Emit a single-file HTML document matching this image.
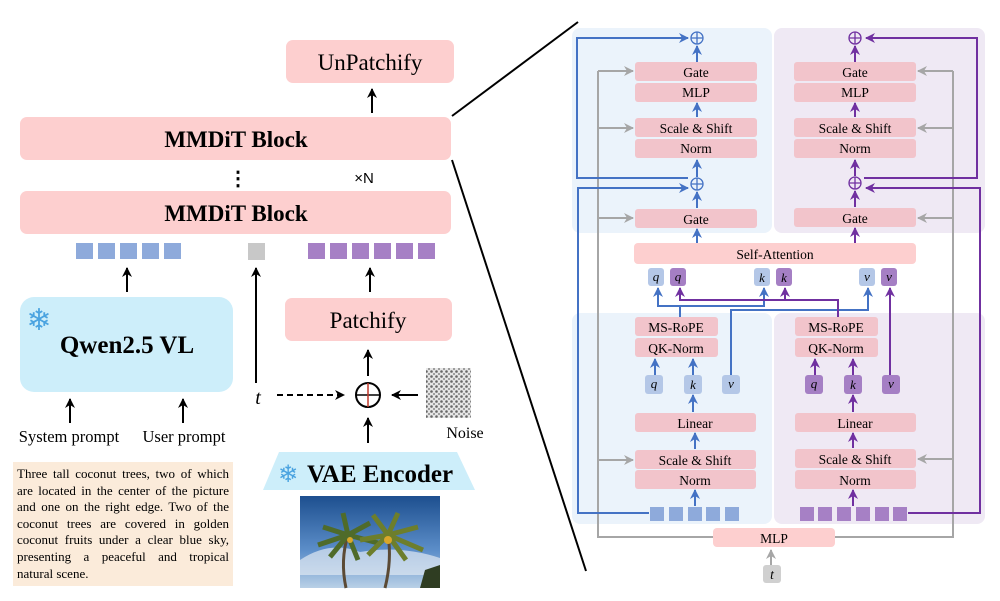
<!DOCTYPE html>
<html><head><meta charset="utf-8"><style>
html,body{margin:0;padding:0;background:#fff;width:1000px;height:601px;overflow:hidden;position:relative}
svg{display:block}
text{font-family:"Liberation Serif",serif;fill:#000}
.t{font-size:13.5px;text-anchor:middle}
#desc{position:absolute;left:13px;top:462px;width:212px;height:120px;padding:4px 4px 0 4px;background:#fbebda;font-family:"Liberation Serif",serif;font-size:13px;line-height:16.6px;color:#000}
#desc div{text-align:justify;text-align-last:justify;white-space:nowrap}
#desc div.l{text-align-last:left}
</style></head><body>
<svg width="1000" height="601" viewBox="0 0 1000 601" xmlns="http://www.w3.org/2000/svg">
<defs>
<marker id="ak" viewBox="0 0 10 10" refX="9" refY="5" markerWidth="5" markerHeight="5" orient="auto"><path d="M0,0 L10,5 L0,10 L3,5z" fill="#000"/></marker>
<marker id="ab" viewBox="0 0 10 10" refX="9" refY="5" markerWidth="5" markerHeight="5" orient="auto"><path d="M0,0 L10,5 L0,10 L3,5z" fill="#4472c4"/></marker>
<marker id="ap" viewBox="0 0 10 10" refX="9" refY="5" markerWidth="5" markerHeight="5" orient="auto"><path d="M0,0 L10,5 L0,10 L3,5z" fill="#7030a0"/></marker>
<marker id="ag" viewBox="0 0 10 10" refX="9" refY="5" markerWidth="5" markerHeight="5" orient="auto"><path d="M0,0 L10,5 L0,10 L3,5z" fill="#a6a6a6"/></marker>
<pattern id="noise" width="5" height="5" patternUnits="userSpaceOnUse"><rect width="5" height="5" fill="#e6e6e6"/><circle cx="1.5" cy="1.5" r="1.3" fill="#666"/><circle cx="4" cy="4" r="1" fill="#888"/></pattern>
<linearGradient id="sky" x1="0" y1="0" x2="0" y2="1"><stop offset="0" stop-color="#1d4f8f"/><stop offset="0.6" stop-color="#5d8fca"/><stop offset="1" stop-color="#b9d0e6"/></linearGradient>
</defs>

<line x1="452" y1="116" x2="578" y2="22" stroke="#000" stroke-width="2"/>
<line x1="452" y1="160" x2="586" y2="571" stroke="#000" stroke-width="2"/>

<rect x="286" y="40" width="168" height="43" rx="7" fill="#fdcfcf"/>
<text x="370" y="70" font-size="23" text-anchor="middle">UnPatchify</text>
<line x1="372" y1="113" x2="372" y2="89" stroke="#000" stroke-width="2" marker-end="url(#ak)"/>
<rect x="20" y="117" width="431" height="43" rx="7" fill="#fdcfcf"/>
<text x="236" y="147" font-size="23" font-weight="bold" text-anchor="middle">MMDiT Block</text>
<text x="238" y="185" font-size="20" font-weight="bold" text-anchor="middle">⋮</text>
<text x="364" y="183" font-size="15" text-anchor="middle" style="font-family:'Liberation Sans',sans-serif">×N</text>
<rect x="20" y="191" width="431" height="43" rx="7" fill="#fdcfcf"/>
<text x="236" y="221" font-size="23" font-weight="bold" text-anchor="middle">MMDiT Block</text>

<g fill="#8eaadb">
<rect x="76" y="243" width="17" height="16"/><rect x="98" y="243" width="17" height="16"/><rect x="120" y="243" width="17" height="16"/><rect x="142" y="243" width="17" height="16"/><rect x="164" y="243" width="17" height="16"/>
</g>
<rect x="248" y="243" width="17" height="17" fill="#c8c8c8"/>
<g fill="#a680c5">
<rect x="308" y="243" width="17" height="16"/><rect x="330" y="243" width="17" height="16"/><rect x="352" y="243" width="17" height="16"/><rect x="374" y="243" width="17" height="16"/><rect x="396" y="243" width="17" height="16"/><rect x="418" y="243" width="17" height="16"/>
</g>
<line x1="127" y1="292" x2="127" y2="268" stroke="#000" stroke-width="2" marker-end="url(#ak)"/>
<line x1="370" y1="292" x2="370" y2="268" stroke="#000" stroke-width="2" marker-end="url(#ak)"/>
<line x1="256" y1="383" x2="256" y2="268" stroke="#000" stroke-width="2" marker-end="url(#ak)"/>

<rect x="20" y="297" width="213" height="95" rx="14" fill="#cdeefa"/>
<text x="39" y="330" font-size="30" text-anchor="middle" style="fill:#4aa3e0;font-family:'DejaVu Sans',sans-serif">❄</text>
<text x="127" y="353" font-size="25" font-weight="bold" text-anchor="middle">Qwen2.5 VL</text>
<line x1="70" y1="423" x2="70" y2="399" stroke="#000" stroke-width="2" marker-end="url(#ak)"/>
<line x1="183" y1="423" x2="183" y2="399" stroke="#000" stroke-width="2" marker-end="url(#ak)"/>
<text x="69" y="442" font-size="16.5" text-anchor="middle">System prompt</text>
<text x="184" y="442" font-size="16.5" text-anchor="middle">User prompt</text>

<rect x="285" y="298" width="167" height="43" rx="7" fill="#fdcfcf"/>
<text x="368" y="328" font-size="23" text-anchor="middle">Patchify</text>
<line x1="368" y1="376" x2="368" y2="350" stroke="#000" stroke-width="2" marker-end="url(#ak)"/>
<circle cx="368" cy="395" r="12" fill="none" stroke="#000" stroke-width="2"/>
<line x1="356" y1="395" x2="380" y2="395" stroke="#000" stroke-width="1.5"/>
<line x1="368" y1="383" x2="368" y2="407" stroke="#c0392b" stroke-width="1.5"/>
<text x="258" y="404" font-size="20" font-style="italic" text-anchor="middle">t</text>
<line x1="277" y1="395" x2="344" y2="395" stroke="#000" stroke-width="2" stroke-dasharray="6,4" marker-end="url(#ak)"/>
<line x1="418" y1="395" x2="392" y2="395" stroke="#000" stroke-width="2" marker-end="url(#ak)"/>
<rect x="426" y="368" width="45" height="50" fill="url(#noise)"/>
<text x="465" y="438" font-size="16" text-anchor="middle">Noise</text>
<line x1="368" y1="443" x2="368" y2="418" stroke="#000" stroke-width="2" marker-end="url(#ak)"/>

<polygon points="279,452 457,452 475,490 263,490" fill="#cdeefa"/>
<text x="288" y="482" font-size="24" text-anchor="middle" style="fill:#4aa3e0;font-family:'DejaVu Sans',sans-serif">❄</text>
<text x="380" y="482" font-size="25" font-weight="bold" text-anchor="middle">VAE Encoder</text>

<rect x="300" y="496" width="140" height="92" fill="url(#sky)"/>
<path d="M300,560 Q330,540 360,552 Q400,545 440,558 L440,575 L300,575z" fill="#dfe8f2" opacity="0.7"/>
<path d="M346,588 Q340,560 348,535" stroke="#5b4a35" stroke-width="3" fill="none"/>
<path d="M385,588 Q392,560 388,535" stroke="#5b4a35" stroke-width="3" fill="none"/>
<path d="M348,535 l-30,10 M348,535 l-25,-8 M348,535 l-5,-22 M348,535 l22,-12 M348,535 l30,8 M348,535 l10,25 M348,535 l-18,22" stroke="#4f6b2a" stroke-width="5" fill="none"/>
<path d="M388,535 l-28,5 M388,535 l-15,-20 M388,535 l10,-22 M388,535 l30,-8 M388,535 l35,15 M388,535 l18,25 M388,535 l-20,20" stroke="#6d7e2c" stroke-width="5" fill="none"/>
<circle cx="388" cy="540" r="4" fill="#d9a62a"/><circle cx="350" cy="540" r="3" fill="#d9a62a"/>
<path d="M420,588 L425,570 L440,565 L440,588z" fill="#2f3d22"/>

<rect x="572" y="28" width="200" height="205" rx="8" fill="#ebf3fb"/>
<rect x="774" y="28" width="211" height="205" rx="8" fill="#efe9f4"/>
<rect x="572" y="313" width="200" height="211" rx="8" fill="#ebf3fb"/>
<rect x="774" y="313" width="211" height="211" rx="8" fill="#efe9f4"/>

<g stroke="#a6a6a6" stroke-width="2" fill="none">
<path d="M713,537 H598 V71"/><path d="M835,537 H953 V71"/>
<line x1="771" y1="565" x2="771" y2="550" marker-end="url(#ag)"/>
</g>
<g stroke="#a6a6a6" stroke-width="2" marker-end="url(#ag)">
<line x1="598" y1="71" x2="633" y2="71"/><line x1="598" y1="128" x2="633" y2="128"/><line x1="598" y1="218" x2="633" y2="218"/><line x1="598" y1="460" x2="633" y2="460"/>
<line x1="953" y1="71" x2="918" y2="71"/><line x1="953" y1="128" x2="918" y2="128"/><line x1="953" y1="218" x2="918" y2="218"/><line x1="953" y1="459" x2="918" y2="459"/>
</g>

<g fill="none" stroke-width="2">
<path d="M688,178 H577 V38 H688" stroke="#4472c4" marker-end="url(#ab)"/>
<path d="M649,513 H578 V188 H688" stroke="#4472c4" marker-end="url(#ab)"/>
<path d="M864,178 H977 V38 H866" stroke="#7030a0" marker-end="url(#ap)"/>
<path d="M908,513 H980 V188 H866" stroke="#7030a0" marker-end="url(#ap)"/>
</g>

<g fill="#f2c4cb">
<rect x="635" y="62" width="122" height="19" rx="3"/><rect x="635" y="83" width="122" height="19" rx="3"/>
<rect x="635" y="118" width="122" height="19" rx="3"/><rect x="635" y="139" width="122" height="19" rx="3"/>
<rect x="635" y="209" width="122" height="19" rx="3"/>
<rect x="794" y="62" width="122" height="19" rx="3"/><rect x="794" y="83" width="122" height="19" rx="3"/>
<rect x="794" y="118" width="122" height="19" rx="3"/><rect x="794" y="139" width="122" height="19" rx="3"/>
<rect x="794" y="208" width="122" height="19" rx="3"/>
<rect x="635" y="317" width="83" height="19" rx="3"/><rect x="635" y="338" width="83" height="19" rx="3"/>
<rect x="795" y="317" width="83" height="19" rx="3"/><rect x="795" y="338" width="83" height="19" rx="3"/>
<rect x="635" y="413" width="121" height="19" rx="3"/><rect x="795" y="413" width="121" height="19" rx="3"/>
<rect x="635" y="450" width="121" height="19" rx="3"/><rect x="635" y="470" width="121" height="19" rx="3"/>
<rect x="795" y="449" width="121" height="19" rx="3"/><rect x="795" y="470" width="121" height="19" rx="3"/>
</g>
<rect x="634" y="243" width="282" height="21" rx="4" fill="#fdcfcf"/>
<rect x="713" y="528" width="122" height="19" rx="4" fill="#fdcfcf"/>
<rect x="763" y="565" width="18" height="18" rx="3" fill="#d0d0d0"/>

<g>
<text class="t" x="696" y="77">Gate</text><text class="t" x="696" y="97">MLP</text>
<text class="t" x="696" y="133">Scale &amp; Shift</text><text class="t" x="696" y="153">Norm</text>
<text class="t" x="696" y="224">Gate</text>
<text class="t" x="855" y="77">Gate</text><text class="t" x="855" y="97">MLP</text>
<text class="t" x="855" y="133">Scale &amp; Shift</text><text class="t" x="855" y="153">Norm</text>
<text class="t" x="855" y="223">Gate</text>
<text class="t" x="775" y="259">Self-Attention</text>
<text class="t" x="676" y="332">MS-RoPE</text><text class="t" x="676" y="353">QK-Norm</text>
<text class="t" x="836" y="332">MS-RoPE</text><text class="t" x="836" y="353">QK-Norm</text>
<text class="t" x="695" y="428">Linear</text><text class="t" x="855" y="428">Linear</text>
<text class="t" x="695" y="465">Scale &amp; Shift</text><text class="t" x="695" y="485">Norm</text>
<text class="t" x="855" y="464">Scale &amp; Shift</text><text class="t" x="855" y="485">Norm</text>
<text class="t" x="774" y="543">MLP</text>
<text class="t" x="772" y="579" font-style="italic">t</text>
</g>

<g fill="none" stroke-width="1.3">
<g stroke="#4472c4"><circle cx="697" cy="38" r="6"/><path d="M691,38H703M697,32V44"/><circle cx="697" cy="184" r="6"/><path d="M691,184H703M697,178V190"/></g>
<g stroke="#7030a0"><circle cx="855" cy="38" r="6"/><path d="M849,38H861M855,32V44"/><circle cx="855" cy="183" r="6"/><path d="M849,183H861M855,177V189"/></g>
</g>

<g stroke="#4472c4" stroke-width="2" marker-end="url(#ab)">
<line x1="697" y1="62" x2="697" y2="46"/><line x1="697" y1="117" x2="697" y2="103"/><line x1="697" y1="177" x2="697" y2="160"/>
<line x1="697" y1="208" x2="697" y2="192"/><line x1="697" y1="243" x2="697" y2="229"/>
<line x1="655" y1="375" x2="655" y2="359"/><line x1="693" y1="375" x2="693" y2="359"/>
<line x1="693" y1="412" x2="693" y2="395"/><line x1="695" y1="449" x2="695" y2="433"/><line x1="695" y1="506" x2="695" y2="490"/>
</g>
<g stroke="#7030a0" stroke-width="2" marker-end="url(#ap)">
<line x1="855" y1="62" x2="855" y2="46"/><line x1="855" y1="117" x2="855" y2="103"/><line x1="855" y1="176" x2="855" y2="160"/>
<line x1="855" y1="207" x2="855" y2="191"/><line x1="855" y1="243" x2="855" y2="228"/>
<line x1="815" y1="375" x2="815" y2="359"/><line x1="853" y1="375" x2="853" y2="359"/>
<line x1="853" y1="412" x2="853" y2="395"/><line x1="853" y1="448" x2="853" y2="433"/><line x1="853" y1="506" x2="853" y2="490"/>
</g>

<g fill="none" stroke-width="2">
<path d="M680,317 V306 H764 V288" stroke="#4472c4" marker-end="url(#ab)"/>
<path d="M680,306 H658 V288" stroke="#4472c4" marker-end="url(#ab)"/>
<path d="M731,375 V310 H868 V288" stroke="#4472c4" marker-end="url(#ab)"/>
<path d="M838,317 V300 H680 V288" stroke="#7030a0" marker-end="url(#ap)"/>
<path d="M785,300 V288" stroke="#7030a0" marker-end="url(#ap)"/>
<path d="M890,375 V288" stroke="#7030a0" marker-end="url(#ap)"/>
</g>

<g>
<rect x="648" y="268" width="16" height="18" rx="3" fill="#b4c7e7"/><rect x="670" y="268" width="16" height="18" rx="3" fill="#a57fc4"/>
<rect x="754" y="268" width="16" height="18" rx="3" fill="#b4c7e7"/><rect x="776" y="268" width="16" height="18" rx="3" fill="#a57fc4"/>
<rect x="859" y="268" width="16" height="18" rx="3" fill="#b4c7e7"/><rect x="881" y="268" width="16" height="18" rx="3" fill="#a57fc4"/>
<rect x="645" y="375" width="18" height="19" rx="3" fill="#b4c7e7"/><rect x="684" y="375" width="18" height="19" rx="3" fill="#b4c7e7"/><rect x="722" y="375" width="18" height="19" rx="3" fill="#b4c7e7"/>
<rect x="805" y="375" width="18" height="19" rx="3" fill="#a57fc4"/><rect x="844" y="375" width="18" height="19" rx="3" fill="#a57fc4"/><rect x="882" y="375" width="18" height="19" rx="3" fill="#a57fc4"/>
</g>
<g font-size="13" font-style="italic" text-anchor="middle">
<text x="656" y="281">q</text><text x="678" y="281">q</text><text x="762" y="282">k</text><text x="784" y="282">k</text><text x="867" y="281">v</text><text x="889" y="281">v</text>
<text x="654" y="388">q</text><text x="693" y="389">k</text><text x="731" y="388">v</text>
<text x="814" y="388">q</text><text x="853" y="389">k</text><text x="891" y="388">v</text>
</g>

<g fill="#8eaadb">
<rect x="650" y="507" width="14" height="14"/><rect x="669" y="507" width="14" height="14"/><rect x="688" y="507" width="14" height="14"/><rect x="706" y="507" width="14" height="14"/><rect x="725" y="507" width="14" height="14"/>
</g>
<g fill="#a680c5">
<rect x="800" y="507" width="14" height="14"/><rect x="818" y="507" width="14" height="14"/><rect x="837" y="507" width="14" height="14"/><rect x="856" y="507" width="14" height="14"/><rect x="875" y="507" width="14" height="14"/><rect x="893" y="507" width="14" height="14"/>
</g>
</svg>
<div id="desc">
<div>Three tall coconut trees, two of which</div>
<div>are located in the center of the picture</div>
<div>and one on the right edge. Two of the</div>
<div>coconut trees are covered in golden</div>
<div>coconut fruits under a clear blue sky,</div>
<div>presenting a peaceful and tropical</div>
<div class="l">natural scene.</div>
</div>
</body></html>
